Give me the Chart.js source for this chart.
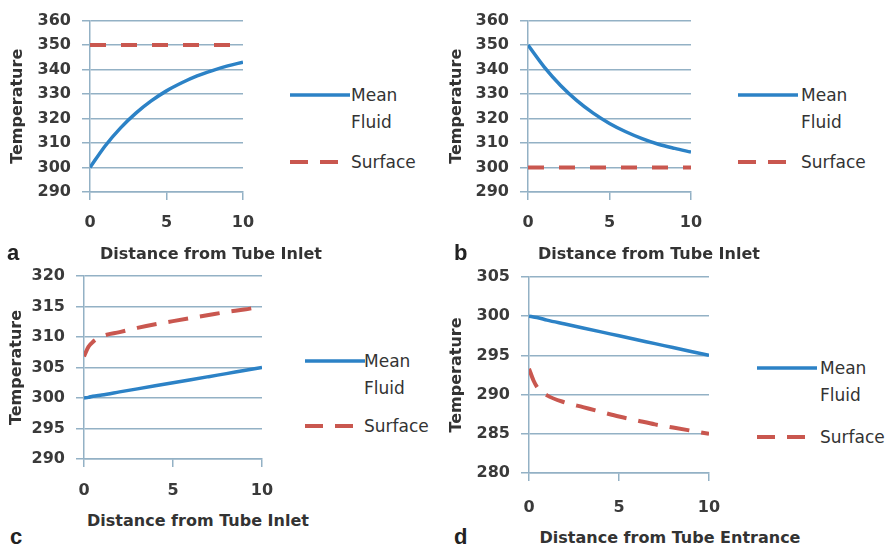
<!DOCTYPE html>
<html>
<head>
<meta charset="utf-8">
<script src="https://cdn.jsdelivr.net/npm/chart.js@4.4.0/dist/chart.umd.min.js"></script>
<style>
  body { margin: 0; background: #fff; }
  #wrap { position: relative; width: 892px; height: 550px; overflow: hidden; font-family: "DejaVu Sans", sans-serif; }
  canvas { position: absolute; }
  svg { position: absolute; }
  .xt { position: absolute; font-weight: bold; font-size: 16px; color: #333; white-space: nowrap; transform: translate(-50%, -50%); }
  .lt { position: absolute; font-family: "Liberation Sans", Arial, sans-serif; font-weight: bold; font-size: 22px; color: #222; transform: translateY(-50%); }
  .lg { position: absolute; font-size: 17px; color: #333; line-height: 27px; }
</style>
</head>
<body>
<div id="wrap">
  <canvas id="chartA"></canvas>
  <canvas id="chartB"></canvas>
  <canvas id="chartC"></canvas>
  <canvas id="chartD"></canvas>
</div>
<script>
// distance along tube (x values)
var distAB = [0, 1, 2, 3, 4, 5, 6, 7, 8, 9, 10];
var distCD = [0, 0.25, 0.5, 1, 2, 3, 4, 5, 6, 7, 8, 9, 10];

// panel a
var aMean    = [300, 308.9, 316.2, 322.2, 327.2, 331.3, 334.6, 337.4, 339.6, 341.5, 343];
var aSurface = [350, 350, 350, 350, 350, 350, 350, 350, 350, 350, 350];
// panel b
var bMean    = [350, 341, 333.5, 327.3, 322.2, 318, 314.6, 311.8, 309.5, 307.8, 306.3];
var bSurface = [300, 300, 300, 300, 300, 300, 300, 300, 300, 300, 300];
// panel c
var cMean    = [300, 300.1, 300.3, 300.5, 301, 301.5, 302, 302.5, 303, 303.5, 304, 304.5, 305];
var cSurface = [306.8, 308.4, 309.2, 310.1, 310.8, 311.5, 312.1, 312.6, 313.1, 313.6, 314.1, 314.5, 315];
// panel d
var dMean    = [300, 299.9, 299.8, 299.5, 299, 298.5, 298, 297.5, 297, 296.5, 296, 295.5, 295];
var dSurface = [293.3, 291.8, 290.8, 289.9, 289, 288.4, 287.8, 287.2, 286.7, 286.2, 285.8, 285.4, 285];

var xTickValues = [0, 5, 10];
var seriesNames = ['Mean Fluid', 'Surface'];
var yTitle = 'Temperature';

var gridColor = '#93b1c5';
var blue = '#2c82c6';
var red = '#c9574f';
var tickFont = { family: 'DejaVu Sans', size: 16, weight: 'bold' };

function pts(xs, ys) {
    var out = [];
    for (var i = 0; i < xs.length; i++) out.push({ x: xs[i], y: ys[i] });
    return out;
}

function addDiv(cls, text, x, y) {
    var d = document.createElement('div');
    d.className = cls;
    d.textContent = text;
    d.style.left = x + 'px';
    d.style.top = y + 'px';
    document.getElementById('wrap').appendChild(d);
}

function makePanel(p) {
    var cv = document.getElementById(p.id);
    cv.style.left = p.left + 'px';
    cv.style.top = p.top + 'px';
    cv.width = p.w;
    cv.height = p.h;
    new Chart(cv.getContext('2d'), {
        type: 'line',
        data: {
            datasets: [{
                label: seriesNames[0],
                data: pts(p.xs, p.mean),
                borderColor: blue,
                borderWidth: 3.5,
                pointRadius: 0,
                cubicInterpolationMode: 'monotone'
            }, {
                label: seriesNames[1],
                data: pts(p.xs, p.surface),
                borderColor: red,
                borderWidth: 4,
                borderDash: p.dash,
                pointRadius: 0,
                cubicInterpolationMode: 'monotone'
            }]
        },
        options: {
            responsive: false,
            animation: false,
            layout: { padding: { top: p.ca.top, right: p.w - p.ca.right, bottom: 0, left: 0 } },
            plugins: { legend: { display: false }, tooltip: { enabled: false } },
            scales: {
                x: {
                    type: 'linear',
                    min: 0, max: 10,
                    afterBuildTicks: function (s) { s.ticks = xTickValues.map(function (v) { return { value: v }; }); },
                    afterFit: function (s) { s.height = p.h - p.ca.bottom; },
                    grid: { drawOnChartArea: false, drawTicks: true, tickLength: 8, color: gridColor, lineWidth: 1.5 },
                    border: { color: gridColor, width: 1.5 },
                    ticks: { color: '#3a3a3a', font: tickFont, padding: p.xPad, maxRotation: 0 }
                },
                y: {
                    min: p.yMin, max: p.yMax,
                    afterFit: function (s) { s.width = p.ca.left; },
                    grid: { drawTicks: true, tickLength: 8, color: gridColor, lineWidth: 1.5 },
                    border: { color: gridColor, width: 1.5 },
                    ticks: { stepSize: p.step, color: '#3a3a3a', font: tickFont, padding: 11 },
                    title: { display: true, text: yTitle, color: '#333', font: { family: 'DejaVu Sans', size: 16, weight: 'bold' }, padding: { top: p.titlePad, bottom: 0 } }
                }
            }
        }
    });

    addDiv('xt', p.xTitle, p.xt[0], p.xt[1]);
    addDiv('lt', p.letter, p.lt[0], p.lt[1]);

    // legend: solid line + two-line label, dashed line + label
    var lg = p.lg;
    var box = document.createElement('div');
    box.innerHTML =
        '<svg width="62" height="8" style="left:' + lg.x + 'px;top:' + (lg.y1 - 4) + 'px">' +
        '<line x1="0" y1="4" x2="60" y2="4" stroke="' + blue + '" stroke-width="3.5"/></svg>' +
        '<svg width="62" height="8" style="left:' + lg.x + 'px;top:' + (lg.y2 - 4) + 'px">' +
        '<line x1="0" y1="4" x2="58" y2="4" stroke="' + red + '" stroke-width="4" stroke-dasharray="18,12"/></svg>';
    document.getElementById('wrap').appendChild(box);
    addDiv('lg', 'Mean', lg.tx, lg.y1 - 13);
    addDiv('lg', 'Fluid', lg.tx, lg.y1 + 14);
    addDiv('lg', seriesNames[1], lg.tx, lg.y2 - 13);
}

makePanel({ id: 'chartA', left: 0, top: 0, w: 275, h: 240,
    ca: { left: 90, right: 243, top: 13, bottom: 192 }, titlePad: 8, xPad: 13, dash: [16, 15],
    xs: distAB, mean: aMean, surface: aSurface, yMin: 290, yMax: 360, step: 10,
    xTitle: 'Distance from Tube Inlet', xt: [211, 253], letter: 'a', lt: [7, 253],
    lg: { x: 290, tx: 351, y1: 95, y2: 162 } });

makePanel({ id: 'chartB', left: 440, top: 0, w: 285, h: 240,
    ca: { left: 88, right: 251, top: 13, bottom: 192 }, titlePad: 7, xPad: 13, dash: [16, 15],
    xs: distAB, mean: bMean, surface: bSurface, yMin: 290, yMax: 360, step: 10,
    xTitle: 'Distance from Tube Inlet', xt: [649, 253], letter: 'b', lt: [454, 253],
    lg: { x: 738, tx: 801, y1: 95, y2: 162 } });

makePanel({ id: 'chartC', left: 0, top: 250, w: 296, h: 255,
    ca: { left: 84, right: 262, top: 26, bottom: 209 }, titlePad: 7, xPad: 14, dash: [20, 12],
    xs: distCD, mean: cMean, surface: cSurface, yMin: 290, yMax: 320, step: 5,
    xTitle: 'Distance from Tube Inlet', xt: [198, 520], letter: 'c', lt: [10, 537],
    lg: { x: 305, tx: 364, y1: 361, y2: 426 } });

makePanel({ id: 'chartD', left: 440, top: 250, w: 305, h: 272,
    ca: { left: 89, right: 269, top: 27, bottom: 223 }, titlePad: 7, xPad: 17, dash: [20, 12],
    xs: distCD, mean: dMean, surface: dSurface, yMin: 280, yMax: 305, step: 5,
    xTitle: 'Distance from Tube Entrance', xt: [670, 537], letter: 'd', lt: [454, 537],
    lg: { x: 757, tx: 820, y1: 368, y2: 437 } });
</script>
</body>
</html>
